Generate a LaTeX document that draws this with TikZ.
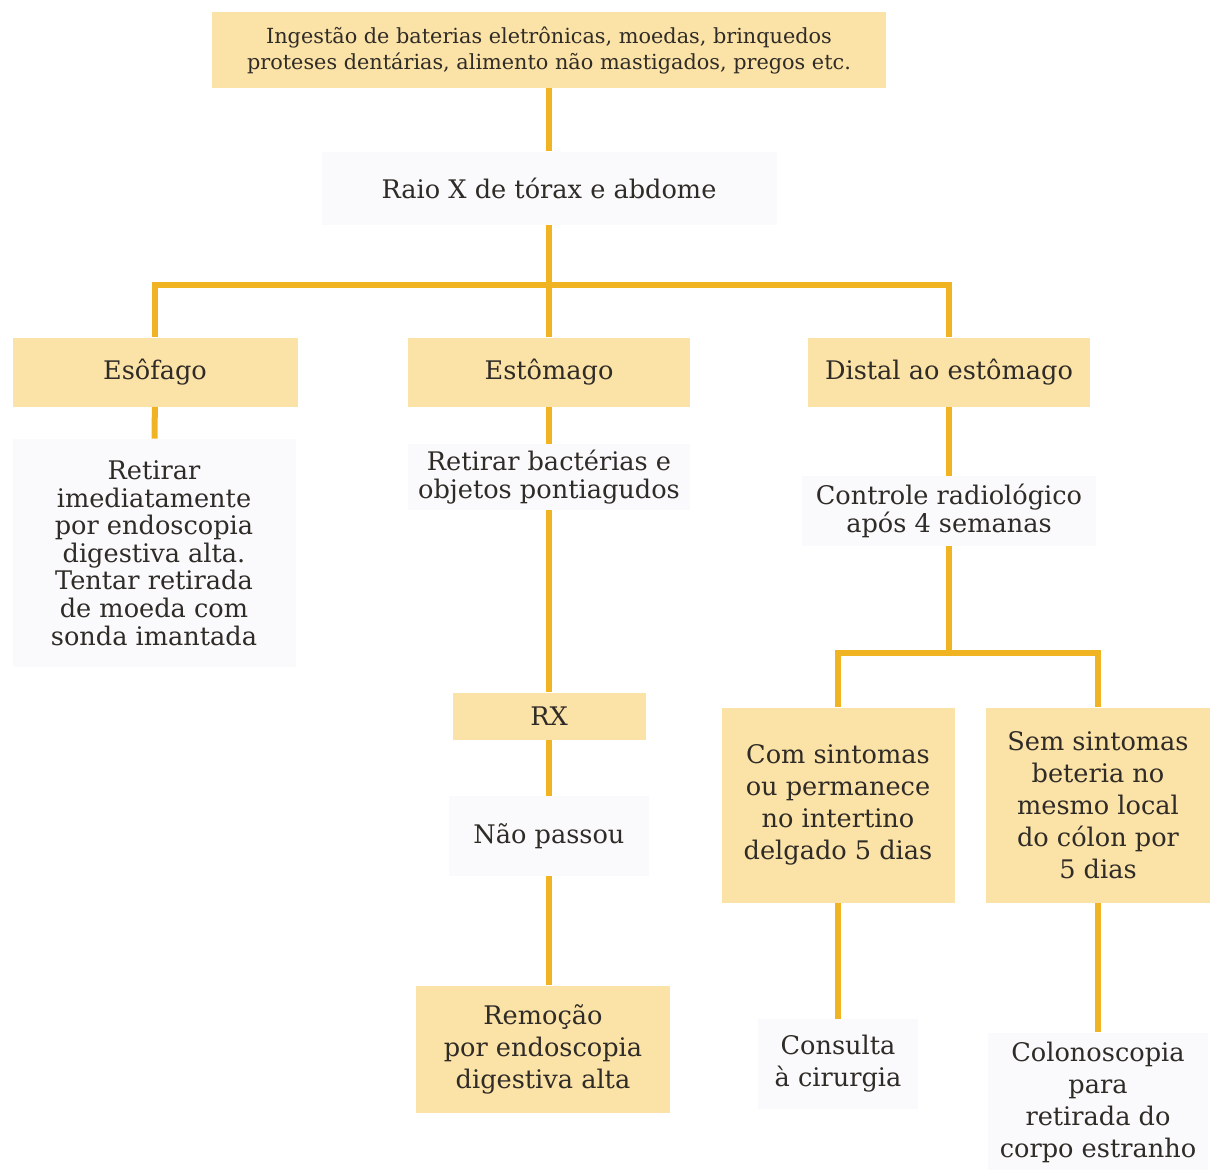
\documentclass[tikz,border=0pt]{standalone}
\usepackage{fontspec}
\setmainfont{DejaVu Serif}
\definecolor{ambar}{HTML}{FBE2A6}
\definecolor{ouro}{HTML}{F0B422}
\definecolor{nevoa}{HTML}{FAF9FC}
\definecolor{tinta}{HTML}{2F2B27}
\tikzset{
  caixa/.style={fill=ambar, text=tinta, align=center, inner sep=0pt},
  nota/.style={fill=nevoa, text=tinta, align=center, inner sep=0pt},
  liga/.style={draw=ouro, line width=3pt},
  junto/.style={font=\fontsize{12.8}{13.8}\selectfont},
}
\begin{document}
\begin{tikzpicture}[x=0.5pt, y=-0.5pt, font=\fontsize{12.8}{16}\selectfont]
\useasboundingbox (0,0) rectangle (1210,1169);
% topo e exame
\node[caixa, minimum width=337pt, minimum height=38pt, font=\fontsize{10.4}{13}\selectfont] (ingest) at (549,50)
  {Ingestão de baterias eletrônicas, moedas, brinquedos\\proteses dentárias, alimento não mastigados, pregos etc.};
\node[nota, minimum width=227.5pt, minimum height=36.5pt] (raio) at (549,188) {Raio X de tórax e abdome};
% localizacao
\node[caixa, minimum width=142.5pt, minimum height=34.5pt] (esof) at (155,372) {Esôfago};
\node[caixa, minimum width=141pt, minimum height=34.5pt] (estom) at (549,372) {Estômago};
\node[caixa, minimum width=141pt, minimum height=34.5pt] (dist) at (949,372) {Distal ao estômago};
% esofago
\node[nota, junto, minimum width=141.5pt, minimum height=114pt] (retira) at (154,553)
  {Retirar\\imediatamente\\por endoscopia\\digestiva alta.\\Tentar retirada\\de moeda com\\sonda imantada};
% estomago
\node[nota, junto, minimum width=141pt, minimum height=33pt] (bact) at (549,477) {Retirar bactérias e\\objetos pontiagudos};
\node[caixa, minimum width=96.5pt, minimum height=23.5pt] (rx) at (549,716) {RX};
\node[nota, minimum width=100pt, minimum height=40pt] (naop) at (549,836) {Não passou};
\node[caixa, minimum width=127pt, minimum height=63.5pt] (remo) at (543,1049) {Remoção\\por endoscopia\\digestiva alta};
% distal
\node[nota, junto, minimum width=147pt, minimum height=35pt] (contr) at (949,511) {Controle radiológico\\após 4 semanas};
\node[caixa, minimum width=116.5pt, minimum height=97.5pt] (com) at (838,805)
  {Com sintomas\\ou permanece\\no intertino\\delgado 5 dias};
\node[caixa, minimum width=112.5pt, minimum height=97.5pt] (sem) at (1098,805)
  {Sem sintomas\\beteria no\\mesmo local\\do cólon por\\5 dias};
\node[nota, minimum width=80pt, minimum height=45pt] (cons) at (838,1064) {Consulta\\à cirurgia};
\node[nota, minimum width=110pt, minimum height=69.5pt] (colo) at (1098,1102)
  {Colonoscopia\\para\\retirada do\\corpo estranho};

\coordinate (garfo) at (549,285);
\coordinate (garfo2) at (949,653);
\draw[liga] (ingest) -- (raio);
\draw[liga] (raio) -- (garfo);
\draw[liga] (esof.north) |- (garfo) -| (dist.north);
\draw[liga] (garfo) -- (estom);
\draw[liga] (esof) -- (retira);
\draw[liga] (estom) -- (bact);
\draw[liga] (bact) -- (rx);
\draw[liga] (rx) -- (naop);
\draw[liga] (naop.south) -- (naop.south |- remo.north);
\draw[liga] (dist) -- (contr);
\draw[liga] (contr) -- (garfo2);
\draw[liga] (com.north) |- (garfo2) -| (sem.north);
\draw[liga] (com) -- (cons);
\draw[liga] (sem) -- (colo);
\end{tikzpicture}
\end{document}
